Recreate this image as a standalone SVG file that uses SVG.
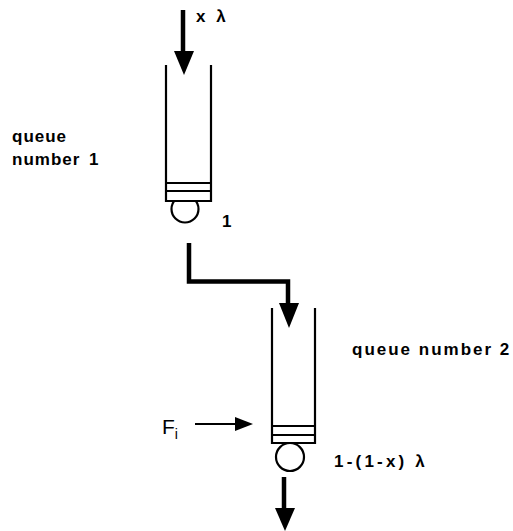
<svg xmlns="http://www.w3.org/2000/svg" width="513" height="531" viewBox="0 0 513 531">
<style>
.ln{stroke:#000;fill:none;stroke-width:4.5}
.th{stroke:#000;fill:none;stroke-width:2.2}
.t{font-family:"Liberation Sans",Arial,sans-serif;font-size:17px;font-weight:bold;fill:#000;letter-spacing:1px}
</style>
<rect width="513" height="531" fill="#fff"/>
<g id="queue1">
<circle class="th" cx="185" cy="209" r="13.5"/>
<rect x="165" y="183" width="46" height="18" fill="#fff" stroke="none"/>
<path class="th" d="M166,65 V201 H211 V65"/>
<line class="th" x1="166" y1="183" x2="211" y2="183"/>
<line class="th" x1="166" y1="191" x2="211" y2="191"/>
<text class="t" x="222" y="227">1</text>
<text class="t" x="12" y="142">queue</text>
<text class="t" x="12" y="165">number <tspan dx="3">1</tspan></text>
</g>
<g id="queue2">
<circle class="th" cx="290" cy="457" r="14"/>
<rect x="271" y="426" width="44" height="17" fill="#fff" stroke="none"/>
<path class="th" d="M272,308 V443 H315 V308"/>
<line class="th" x1="272" y1="426" x2="315" y2="426"/>
<line class="th" x1="272" y1="435" x2="315" y2="435"/>
<text class="t" x="352" y="355" style="letter-spacing:2px">queue number 2</text>
<text class="t" x="334" y="467" style="letter-spacing:3.2px">1-(1-x) λ</text>
</g>
<g id="input">
<text class="t" x="196" y="22" style="letter-spacing:3px">x λ</text>
</g>
<g id="fi">
<text x="162" y="434" style="font-family:'Liberation Sans',Arial,sans-serif;font-size:21px;fill:#000">F<tspan dy="5" font-size="14">i</tspan></text>
</g>
<g id="connectors">
<path d="M183,10 V53" class="ln"/>
<path d="M174,51 L194,51 L184,75 Z" fill="#000"/>
<path d="M189,243 V281.5 H288 V305" class="ln"/>
<path d="M279,303 L299,303 L289,328 Z" fill="#000"/>
<path d="M195,424 H236" class="th"/>
<path d="M235,417 L253,424 L235,431 Z" fill="#000"/>
<path d="M284,477 V510" class="ln"/>
<path d="M275,508 L295,508 L285,531 Z" fill="#000"/>
</g>
</svg>
